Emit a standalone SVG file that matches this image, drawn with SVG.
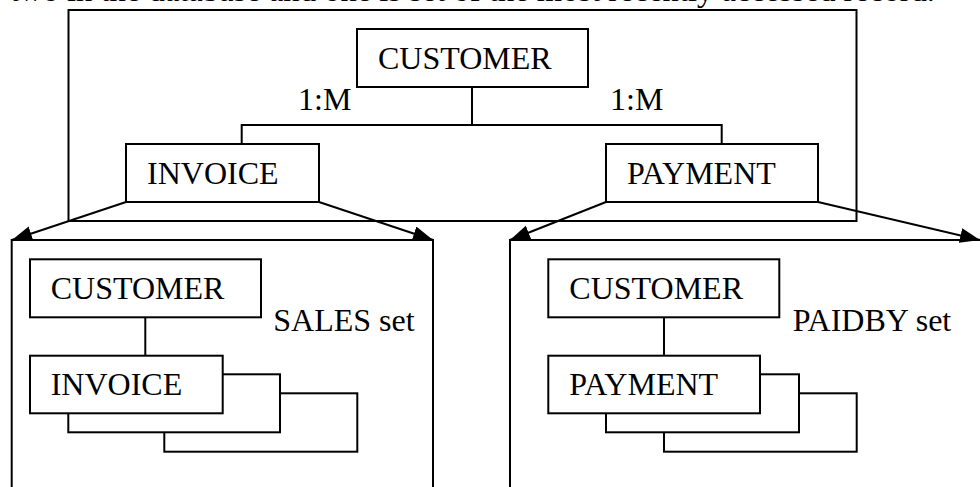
<svg xmlns="http://www.w3.org/2000/svg" width="980" height="487" viewBox="0 0 980 487">
<defs>
<style>
.box{fill:#fff;stroke:#000;stroke-width:2}
.frame{fill:none;stroke:#000;stroke-width:2}
.ln{fill:none;stroke:#000;stroke-width:2}
text{font-family:"Liberation Serif","Times New Roman",serif;font-size:32px;fill:#000}
</style>
<marker id="ah" markerUnits="userSpaceOnUse" markerWidth="22" markerHeight="16" refX="20" refY="7.5" orient="auto">
<path d="M0,0 L20,7.5 L0,15 z" fill="#000"/>
</marker>
</defs>
<text x="10" y="1" textLength="925" lengthAdjust="spacingAndGlyphs">two in the database and one is set of the most recently accessed record.</text>
<g id="outer-frame"><rect class="frame" x="68.5" y="10" width="788" height="211"/></g>
<g id="sales-frame"><path class="frame" d="M11.7,487 V240 H433 V487"/></g>
<g id="paidby-frame"><path class="frame" d="M510,487 V240 H980"/></g>
<g id="connectors">
<path class="ln" d="M472,87 V125 M241.7,144 V125 H721.7 V144"/>
<path class="ln" d="M126,202 L12,240" marker-end="url(#ah)"/>
<path class="ln" d="M319,202 L433,240" marker-end="url(#ah)"/>
<path class="ln" d="M606,202 L510,240" marker-end="url(#ah)"/>
<path class="ln" d="M818,202 L980,240" marker-end="url(#ah)"/>
<path class="ln" d="M145.3,317.3 V355.7"/>
<path class="ln" d="M664,317.3 V355.7"/>
</g>
<g id="customer-top"><rect class="box" x="357" y="29" width="231" height="58"/><text x="378" y="69">CUSTOMER</text></g>
<text x="298" y="110">1:M</text>
<text x="610" y="110">1:M</text>
<g id="invoice-top"><rect class="box" x="126" y="144" width="193" height="58"/><text x="147" y="184">INVOICE</text></g>
<g id="payment-top"><rect class="box" x="606" y="144" width="212" height="58"/><text x="627" y="184">PAYMENT</text></g>
<g id="sales-customer"><rect class="box" x="30" y="259.3" width="231" height="58"/><text x="50.7" y="299">CUSTOMER</text></g>
<text x="273.3" y="330.7">SALES set</text>
<g id="sales-invoice">
<rect class="box" x="164.3" y="393.3" width="193" height="58.4"/>
<rect class="box" x="68.3" y="374.3" width="211.7" height="58"/>
<rect class="box" x="30" y="355.7" width="192.7" height="57.6"/>
<text x="50.7" y="395">INVOICE</text>
</g>
<g id="paidby-customer"><rect class="box" x="548.3" y="259.3" width="231" height="58"/><text x="569.3" y="299">CUSTOMER</text></g>
<text x="792.7" y="330.7">PAIDBY set</text>
<g id="paidby-payment">
<rect class="box" x="664" y="393.3" width="192.7" height="58.4"/>
<rect class="box" x="606" y="374.3" width="193" height="58"/>
<rect class="box" x="548.3" y="355.7" width="211.7" height="57.6"/>
<text x="569.3" y="395">PAYMENT</text>
</g>
</svg>
